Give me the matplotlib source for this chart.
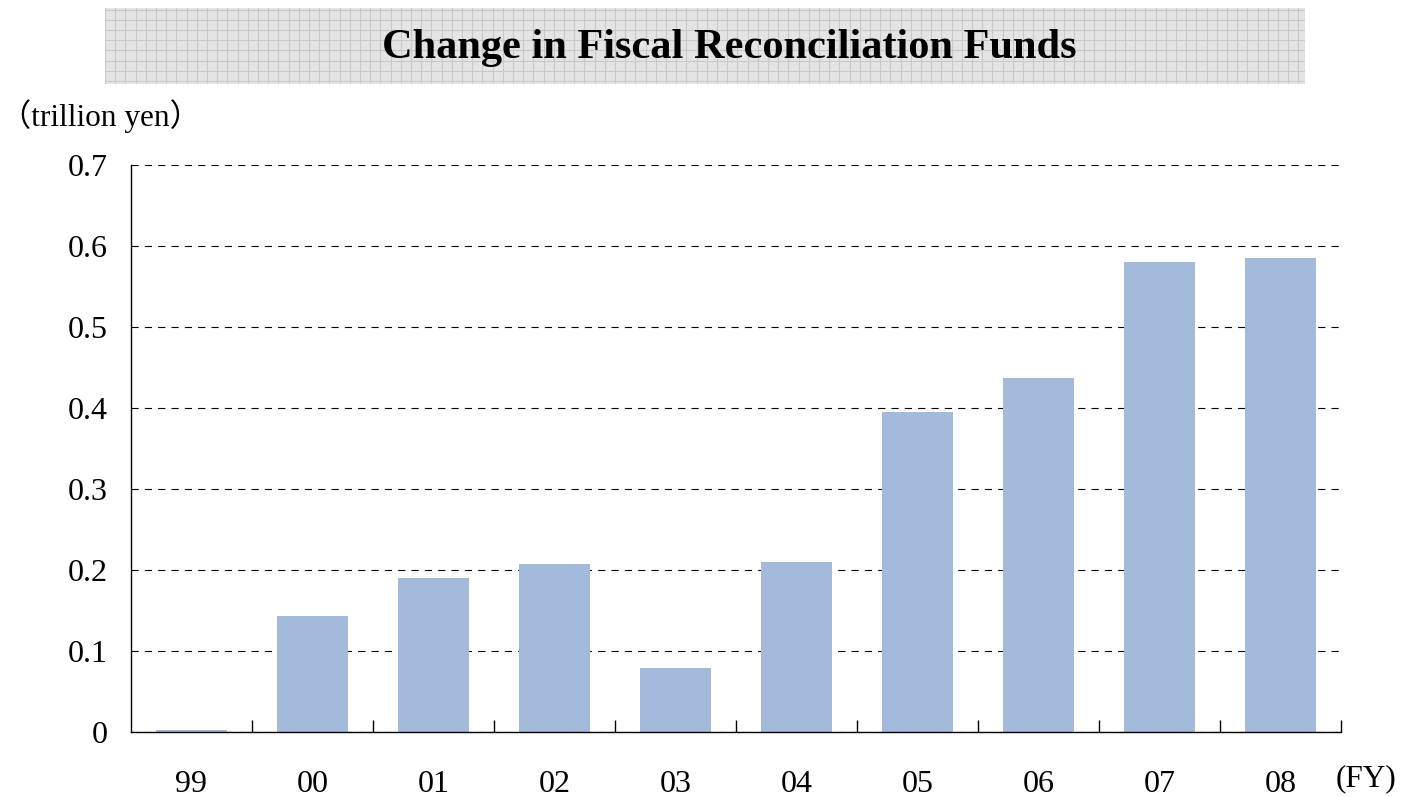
import numpy as np
from matplotlib import pyplot as plt

plt.rcParams['font.family'] = ['Liberation Serif', 'Noto Sans CJK JP', 'DejaVu Serif']

years = ['99', '00', '01', '02', '03', '04', '05', '06', '07', '08']
funds = [0.003, 0.143, 0.190, 0.207, 0.079, 0.210, 0.395, 0.437, 0.580, 0.585]
yticks = [0, 0.1, 0.2, 0.3, 0.4, 0.5, 0.6, 0.7]
ytick_labels = ['0', '0.1', '0.2', '0.3', '0.4', '0.5', '0.6', '0.7']

W, H = 1402, 797
fig = plt.figure(figsize=(W / 100, H / 100), dpi=100)

# title banner with grid pattern
tax = fig.add_axes([105 / W, 1 - 84 / H, 1200 / W, 76 / H])
tax.set_facecolor('#e4e4e4')
tax.set_xlim(0, 1200)
tax.set_ylim(0, 76)
for x in np.arange(0, 1200, 10.2):
    tax.axvline(x, color='#c9c9c9', lw=0.8)
for y in np.arange(3, 76, 10.2):
    tax.axhline(y, color='#c9c9c9', lw=0.8)
tax.set_xticks([])
tax.set_yticks([])
for s in tax.spines.values():
    s.set_visible(False)
tax.text(624, 36, 'Change in Fiscal Reconciliation Funds', ha='center', va='center',
         fontsize=30.5, fontweight='bold')

# main chart
ax = fig.add_axes([131 / W, 1 - 732 / H, 1210 / W, 567 / H])
x = np.arange(len(years))
ax.bar(x, funds, width=0.58, color='#a3badb', zorder=2)
ax.set_xlim(-0.5, len(years) - 0.5)
ax.set_ylim(0, 0.7)
ax.set_yticks(yticks)
ax.set_yticklabels(ytick_labels, fontsize=23)
ax.yaxis.grid(True, linestyle=(0, (6.5, 5.5)), color='black', lw=0.8, zorder=1)
ax.tick_params(axis='y', length=0, pad=17)

ax.set_xticks(x)
ax.set_xticklabels(years, fontsize=23)
ax.tick_params(axis='x', which='major', length=0, pad=27)
ax.set_xticks(np.arange(0.5, len(years), 1.0), minor=True)
ax.tick_params(axis='x', which='minor', direction='in', length=9, width=1)

ax.spines['top'].set_visible(False)
ax.spines['right'].set_visible(False)
ax.spines['left'].set_linewidth(1)
ax.spines['bottom'].set_linewidth(1)

fig.text(0, 1 - 116 / H, '（trillion yen）', fontsize=22.5, va='center', ha='left')
fig.text(1396 / W, 1 - 779 / H, '(FY)', fontsize=22.5, va='center', ha='right')

fig.savefig('out.png', dpi=100)
